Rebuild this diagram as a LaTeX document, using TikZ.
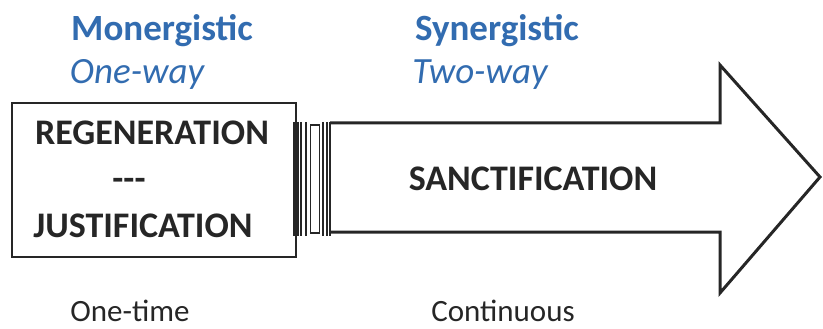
\documentclass[tikz,border=0pt]{standalone}
\usepackage{fontspec}
\setmainfont{Carlito}
\definecolor{wayblue}{RGB}{50,108,176}
\definecolor{inkgray}{RGB}{38,38,38}
\tikzset{
	kind/.style={anchor=base, text=wayblue, font=\fontsize{37}{40}\selectfont\bfseries},
	way/.style={anchor=base, text=wayblue, font=\fontsize{37}{40}\selectfont\itshape},
	stage/.style={anchor=base, text=inkgray, font=\fontsize{36}{40}\selectfont\bfseries},
	span/.style={anchor=base, inner sep=0pt, text=inkgray, font=\fontsize{31}{34}\selectfont},
}
\begin{document}
\begin{tikzpicture}[x=1pt, y=-1pt]
			\useasboundingbox (0, 0) rectangle (823, 329);

			% the one-time box
			\draw[inkgray, line width=2pt](12, 103) rectangle (296, 257);

			% the arrow
			\draw[inkgray, line width=3pt, line join=miter](330, 123) -- (720, 123) -- (720, 65)
				-- (820, 177) -- (720, 293) -- (720, 232) -- (330, 232);
			\foreach \x in {294, 297.5, 301, 305.5, 323, 326.5, 330}
				\draw[inkgray, line width=2pt](\x, 122) to (\x, 236);
			\draw[inkgray, line width=1.6pt](310.5, 125) rectangle (319.5, 233);

			\node[kind] (mon) at(162, 41){Monergistic};
				\node[way] (one) at(137, 84){One-way};
			\node[kind] (syn) at(497, 41){Synergistic};
				\node[way] (two) at(480, 84){Two-way};

			\node[stage] (regen) at(152, 145){REGENERATION};
				\node[stage] (sep) at(129, 190){-{}-{}-};
			\node[stage] (just) at(143, 237){JUSTIFICATION};
			\node[stage] (sanct) at(533, 190){SANCTIFICATION};

			\node[span] (once) at(130, 321){One-time};
			\node[span] (cont) at(503, 321){Continuous};
\end{tikzpicture}
\end{document}
